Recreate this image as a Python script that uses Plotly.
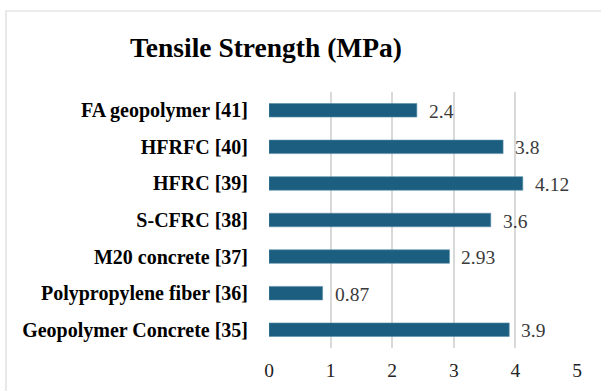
import plotly.graph_objects as go

# Tensile strength of materials, listed bottom-to-top
materials = [
    "Geopolymer Concrete [35]",
    "Polypropylene fiber [36]",
    "M20 concrete [37]",
    "S-CFRC [38]",
    "HFRC [39]",
    "HFRFC [40]",
    "FA geopolymer [41]",
]
strength = [3.9, 0.87, 2.93, 3.6, 4.12, 3.8, 2.4]
value_labels = ["3.9", "0.87", "2.93", "3.6", "4.12", "3.8", "2.4"]
x_ticks = [0, 1, 2, 3, 4, 5]

serif = "Liberation Serif"
bar_color = "#1b5e80"

L, R, T, B = 269, 24, 92, 43
W, H = 601, 391
plot_w = W - L - R
plot_h = H - T - B

fig = go.Figure(
    go.Bar(
        x=strength,
        y=materials,
        orientation="h",
        marker=dict(color=bar_color, line=dict(color="#5a8fa8", width=0.6)),
        width=0.37,
        hoverinfo="skip",
    )
)

# value labels just past the end of each bar
for v, lab, cat in zip(strength, value_labels, materials):
    fig.add_annotation(
        x=v, y=cat, text=lab, showarrow=False,
        xanchor="left", yanchor="middle", xshift=10, yshift=-1,
        font=dict(family=serif, size=19.5, color="#3a3a3a"),
    )

# light frame around the chart area
fig.add_shape(
    type="rect", xref="paper", yref="paper",
    x0=(6 - L) / plot_w, x1=(W + 20 - L) / plot_w,
    y0=-(B + 20) / plot_h, y1=1 + (T - 11) / plot_h,
    line=dict(color="#d9d9d9", width=1.2),
    fillcolor="rgba(0,0,0,0)",
    layer="below",
)

fig.update_layout(
    width=W,
    height=H,
    margin=dict(l=L, r=R, t=T, b=B, autoexpand=False),
    paper_bgcolor="white",
    plot_bgcolor="white",
    showlegend=False,
    title=dict(
        text="<b>Tensile Strength (MPa)</b>",
        x=266 / W, xanchor="center",
        y=1 - 47 / H, yanchor="middle",
        font=dict(family=serif, size=27.5, color="black"),
    ),
    xaxis=dict(
        range=[0, 5],
        tickvals=x_ticks,
        showgrid=True,
        gridcolor="#d9d9d9",
        gridwidth=1.5,
        zeroline=False,
        showline=False,
        ticks="outside",
        ticklen=5,
        tickcolor="rgba(0,0,0,0)",
        tickfont=dict(family=serif, size=19.5, color="#222"),
        automargin=False,
        fixedrange=True,
    ),
    yaxis=dict(
        categoryorder="array",
        categoryarray=materials,
        showgrid=False,
        zeroline=False,
        showline=False,
        ticks="outside",
        ticklen=16,
        tickcolor="rgba(0,0,0,0)",
        tickfont=dict(family=serif, size=20, color="black"),
        tickprefix="<b>",
        ticksuffix="</b>",
        automargin=False,
        fixedrange=True,
    ),
)

fig.write_html("out.html")
